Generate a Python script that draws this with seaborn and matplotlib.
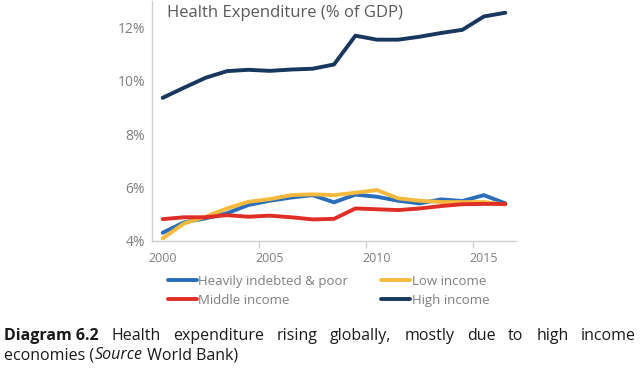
import matplotlib
matplotlib.use("Agg")
import matplotlib.pyplot as plt
import seaborn as sns
import pandas as pd
from matplotlib.ticker import FuncFormatter, FixedLocator

years = list(range(2000, 2017))
hipc = [4.31, 4.70, 4.85, 5.04, 5.35, 5.51, 5.63, 5.72, 5.45, 5.74, 5.66, 5.51, 5.41, 5.56, 5.50, 5.72, 5.41]
low_income = [4.10, 4.66, 4.91, 5.22, 5.47, 5.57, 5.72, 5.75, 5.72, 5.81, 5.91, 5.60, 5.51, 5.46, 5.46, 5.46, 5.37]
middle_income = [4.82, 4.89, 4.89, 4.97, 4.91, 4.95, 4.89, 4.81, 4.83, 5.22, 5.19, 5.16, 5.22, 5.31, 5.38, 5.39, 5.39]
high_income = [9.37, 9.75, 10.12, 10.37, 10.42, 10.38, 10.43, 10.46, 10.62, 11.70, 11.55, 11.55, 11.66, 11.80, 11.92, 12.42, 12.56]

series_names = ["Heavily indebted & poor", "Low income", "Middle income", "High income"]
colors = ["#2a6ebb", "#f5b93d", "#df2e26", "#17375e"]
x_labels = [2000, 2005, 2010, 2015]
y_ticks = [4, 6, 8, 10, 12]

df = pd.concat([
    pd.DataFrame({"year": years, "value": vals, "series": name})
    for name, vals in zip(series_names, [hipc, low_income, middle_income, high_income])
])

sns.set_style("white")
plt.rcParams['font.family'] = ['Open Sans', 'DejaVu Sans']

fig = plt.figure(figsize=(6.4, 3.68), dpi=100)
ax = fig.add_axes([152/640, 1 - 241/368, (516-152)/640, (241-1)/368])

sns.lineplot(data=df, x="year", y="value", hue="series", palette=dict(zip(series_names, colors)),
             linewidth=2.8, ax=ax, legend=False, sort=False)
for ln in ax.lines:
    ln.set_solid_joinstyle("round")
    ln.set_solid_capstyle("round")

ax.set_xlim(1999.5, 2016.5)
ax.set_ylim(4, 13)
ax.set_xlabel("")
ax.set_ylabel("")
ax.set_yticks(y_ticks)
ax.yaxis.set_major_formatter(FuncFormatter(lambda v, p: f"{v:.0f}%"))
ax.set_xticks(x_labels)
ax.set_xticklabels([str(v) for v in x_labels])
ax.xaxis.set_minor_locator(FixedLocator([2004.5, 2009.5, 2014.5]))
ax.tick_params(axis="x", which="major", length=0, pad=8, labelsize=9, labelcolor="#7f7f7f")
ax.tick_params(axis="x", which="minor", length=5, width=1, color="#d0d0d0", direction="out", bottom=True)
ax.tick_params(axis="y", which="major", length=0, pad=5, labelsize=10, labelcolor="#7f7f7f")
for s in ["top", "right"]:
    ax.spines[s].set_visible(False)
for s in ["left", "bottom"]:
    ax.spines[s].set_color("#d0d0d0")
    ax.spines[s].set_linewidth(1)

fig.text(167/640, 1 - 13/368, "Health Expenditure (% of GDP)",
         ha="left", va="center", fontsize=12, color="#595959")

handles = ax.lines
order = [0, 2, 1, 3]
leg = fig.legend([handles[i] for i in order], [series_names[i] for i in order], ncol=2,
                 loc="upper left", bbox_to_anchor=(168/640, 1 - 275/368), frameon=False,
                 fontsize=9.5, handlelength=2.2, handletextpad=0.1, columnspacing=2.5,
                 labelspacing=0.45, borderpad=0, borderaxespad=0)
for t in leg.get_texts():
    t.set_color("#7f7f7f")

# caption, justified first line
fig.canvas.draw()
renderer = fig.canvas.get_renderer()
words1 = [("Diagram 6.2", "bold"), ("Health", "normal"), ("expenditure", "normal"),
          ("rising", "normal"), ("globally,", "normal"), ("mostly", "normal"),
          ("due", "normal"), ("to", "normal"), ("high", "normal"), ("income", "normal")]
cap_size = 11.5
left, right = 4, 636
y1 = 1 - 336/368
texts = []
for w, wt in words1:
    t = fig.text(0, y1, w, fontsize=cap_size, fontweight=wt, color="#1a1a1a", va="center", ha="left")
    texts.append(t)
fig.canvas.draw()
widths = [t.get_window_extent(renderer).width for t in texts]
gap = (right - left - sum(widths)) / (len(texts) - 1)
xpos = left
for t, w in zip(texts, widths):
    t.set_x(xpos / 640)
    xpos += w + gap

y2 = 1 - 355/368
parts = [("economies (", "normal", 1), ("Source", "italic", 0), (" World Bank)", "normal", 0)]
xpos = left
for s, st, extra in parts:
    t = fig.text(xpos / 640, y2, s, fontsize=cap_size, fontstyle=st, color="#1a1a1a", va="center", ha="left")
    fig.canvas.draw()
    xpos += t.get_window_extent(renderer).width + extra

fig.savefig("out.png", dpi=100)
